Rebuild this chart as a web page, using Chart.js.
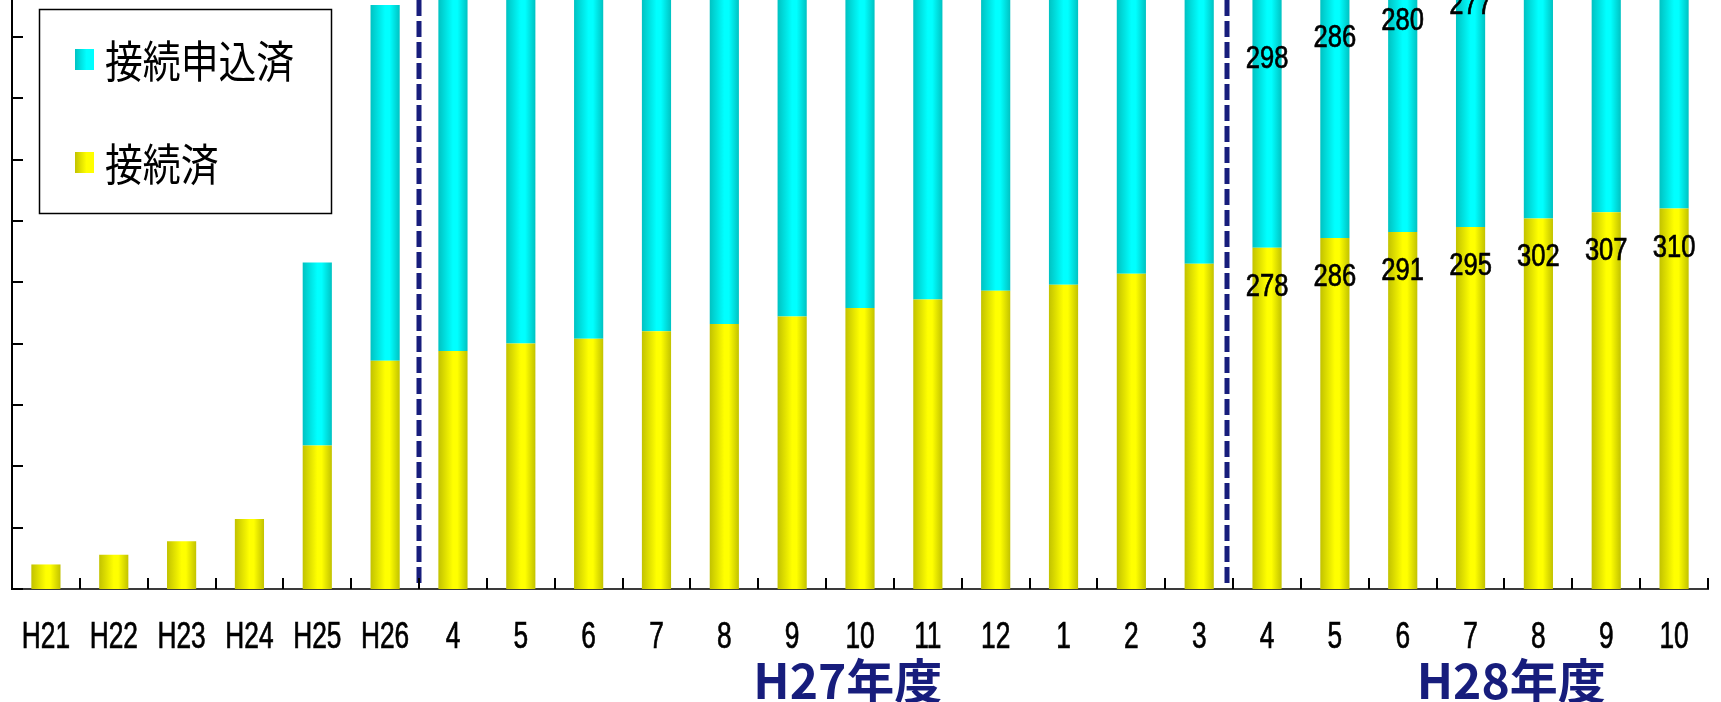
<!DOCTYPE html>
<html>
<head>
<meta charset="utf-8">
<script src="https://cdn.jsdelivr.net/npm/chart.js@4"></script>
<style>
  body { margin: 0; background: #fff; }
  #wrap { width: 1721px; height: 702px; position: relative; }
</style>
</head>
<body>
<div id="wrap"><canvas id="connChart"></canvas></div>
<script>
// categories: fiscal years, then months of H27 and H28
const categories = ['H21', 'H22', 'H23', 'H24', 'H25', 'H26',
  '4', '5', '6', '7', '8', '9', '10', '11', '12', '1', '2', '3',
  '4', '5', '6', '7', '8', '9', '10'];

// 接続済 (connected)
const connected = [20, 28, 39, 57, 117, 186,
  194, 200, 204, 210, 216, 222, 229, 236, 243, 248, 257, 265,
  278, 286, 291, 295, 302, 307, 310];

// 接続申込済 (applied, stacked on top) - tops of H27 bars are outside the frame, estimated
const applied = [0, 0, 0, 0, 149, 290,
  330, 328, 330, 326, 322, 318, 313, 308, 303, 300, 295, 300,
  298, 286, 280, 277, 277, 274, 272];

// which bars carry value labels (H28 months)
const labelFrom = 18;

const groupLabels = ['H27年度', 'H28年度'];

const NAVY = '#171d7c';
const SANS = "'Liberation Sans', Arial, sans-serif";
const BAR_PCT = 0.43;

function barGradient(ctx, dark, light) {
  const xs = ctx.chart.scales.x;
  if (!xs || !isFinite(xs.getPixelForValue(0))) return light;
  const cx = xs.getPixelForValue(ctx.dataIndex);
  const w = (xs.getPixelForValue(1) - xs.getPixelForValue(0)) * BAR_PCT;
  const g = ctx.chart.ctx.createLinearGradient(cx - w / 2, 0, cx + w / 2, 0);
  g.addColorStop(0, dark);
  g.addColorStop(0.5, light);
  g.addColorStop(0.65, light);
  g.addColorStop(1, dark);
  return g;
}

// text squeezed horizontally to mimic the narrow gothic face
function narrowText(c, text, x, y, size, sx) {
  c.save();
  c.translate(x, y);
  c.scale(sx, 1);
  c.font = size + 'px ' + SANS;
  c.textAlign = 'center';
  c.textBaseline = 'alphabetic';
  c.lineWidth = 0.7;
  c.strokeStyle = '#000';
  c.fillText(text, 0, 0);
  c.strokeText(text, 0, 0);
  c.restore();
}

// dividers, axis ticks, labels, legend box and year captions
const decorPlugin = {
  id: 'decor',
  afterDatasetsDraw(chart) {
    const c = chart.ctx;
    const xs = chart.scales.x, ys = chart.scales.y;
    const area = chart.chartArea;
    c.save();

    // dashed year dividers
    c.strokeStyle = NAVY;
    c.lineWidth = 5;
    c.setLineDash([16, 5]);
    [5.5, 17.41].forEach(pos => {
      const x = Math.round(xs.getPixelForValue(pos));
      c.beginPath();
      c.moveTo(x, area.top);
      c.lineTo(x, area.bottom - 1);
      c.stroke();
    });
    c.setLineDash([]);

    // y axis line + inward ticks
    c.strokeStyle = '#000';
    c.lineWidth = 2;
    c.beginPath();
    c.moveTo(area.left, area.top);
    c.lineTo(area.left, area.bottom + 1);
    c.stroke();
    ys.ticks.forEach(t => {
      const y = Math.round(ys.getPixelForValue(t.value));
      c.beginPath();
      c.moveTo(area.left, y);
      c.lineTo(area.left + 11, y);
      c.stroke();
    });

    // x boundary ticks pointing up
    for (let i = 1; i <= categories.length; i++) {
      const x = Math.round(xs.getPixelForValue(i - 0.5));
      c.beginPath();
      c.moveTo(x, area.bottom);
      c.lineTo(x, area.bottom - 11);
      c.stroke();
    }

    // category labels
    c.fillStyle = '#000';
    categories.forEach((lab, i) => {
      narrowText(c, lab, xs.getPixelForValue(i), area.bottom + 59, 36, 0.73);
    });

    // value labels for H28 months
    for (let i = labelFrom; i < categories.length; i++) {
      const x = xs.getPixelForValue(i);
      const yTop = ys.getPixelForValue(connected[i]);
      const k = i - labelFrom;
      narrowText(c, String(connected[i]), x, yTop + 48, 32, 0.8);
      narrowText(c, String(applied[i]), x, yTop - (192 + 11 * k) + 12, 32, 0.8);
    }

    // legend box
    c.lineWidth = 1.5;
    c.strokeStyle = '#000';
    c.fillStyle = '#fff';
    c.fillRect(39, 9, 292, 204);
    c.strokeRect(39.5, 9.5, 292, 204);
    const items = [
      { label: chart.data.datasets[1].label, dark: '#00c2c2', light: '#00ffff', y: 49 },
      { label: chart.data.datasets[0].label, dark: '#c2c200', light: '#ffff00', y: 152 }
    ];
    items.forEach(it => {
      const g = c.createLinearGradient(75, 0, 94, 0);
      g.addColorStop(0, it.dark);
      g.addColorStop(0.6, it.light);
      g.addColorStop(1, it.light);
      c.fillStyle = g;
      c.fillRect(75, it.y, 19, 21);
      c.save();
      c.translate(105, it.y + 12);
      c.scale(0.86, 1);
      c.fillStyle = '#000';
      c.font = "44px 'Noto Sans CJK JP'";
      c.textAlign = 'left';
      c.textBaseline = 'middle';
      c.fillText(it.label, 0, 0);
      c.restore();
    });

    // fiscal year captions
    c.fillStyle = NAVY;
    c.font = "bold 48px 'Noto Sans CJK JP'";
    c.textAlign = 'center';
    c.textBaseline = 'alphabetic';
    [11.82, 21.6].forEach((pos, j) => {
      c.fillText(groupLabels[j], xs.getPixelForValue(pos), 699);
    });

    c.restore();
  }
};

new Chart(document.getElementById('connChart'), {
  type: 'bar',
  data: {
    labels: categories,
    datasets: [
      {
        label: '接続済',
        data: connected,
        backgroundColor: ctx => barGradient(ctx, '#c2c200', '#ffff00'),
        barPercentage: BAR_PCT,
        categoryPercentage: 1
      },
      {
        label: '接続申込済',
        data: applied,
        backgroundColor: ctx => barGradient(ctx, '#00c2c2', '#00ffff'),
        barPercentage: BAR_PCT,
        categoryPercentage: 1
      }
    ]
  },
  options: {
    responsive: true,
    maintainAspectRatio: false,
    animation: false,
    layout: { padding: { left: 0, right: 13, top: 0, bottom: 0 } },
    plugins: { legend: { display: false }, tooltip: { enabled: false } },
    scales: {
      x: {
        stacked: true,
        grid: { display: false, drawTicks: false },
        border: { display: true, color: '#3a3a3a', width: 2 },
        ticks: { display: false, autoSkip: false },
        afterFit: scale => { scale.height = 113; }
      },
      y: {
        stacked: true,
        min: 0,
        max: 480,
        grid: { display: false, drawTicks: false },
        border: { display: false },
        ticks: { display: false, stepSize: 50 },
        afterBuildTicks: scale => { scale.ticks = scale.ticks.filter(t => t.value % 50 === 0); },
        afterFit: scale => { scale.width = 12; }
      }
    }
  },
  plugins: [decorPlugin]
});
</script>
</body>
</html>
